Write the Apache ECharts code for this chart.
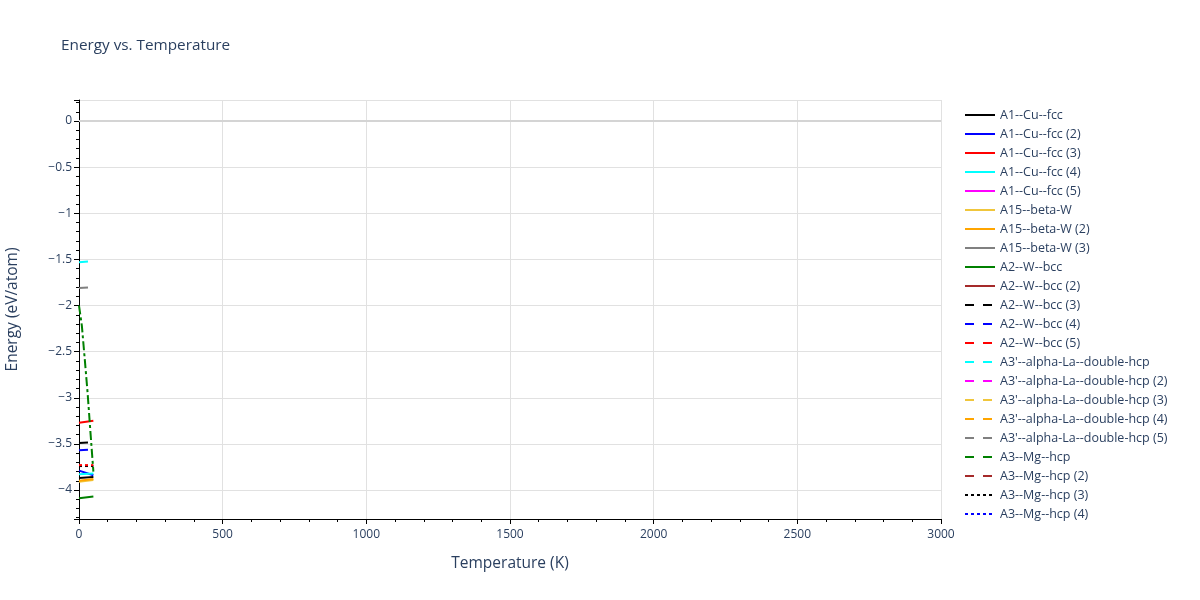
<!DOCTYPE html>
<html>
<head>
<meta charset="utf-8">
<title>Energy vs. Temperature</title>
<script src="https://cdn.jsdelivr.net/npm/echarts@6/dist/echarts.min.js"></script>
<style>
    html, body { margin: 0; padding: 0; background: #fff; }
    #energy { width: 1200px; height: 600px; }
</style>
</head>
<body>
<div id="energy"></div>
<script>
// temperatures (K) of the short runs, and the finer one for the dash-dot series
var temps = [0, 50];
var tempsFine = [0, 10, 20, 30, 40, 50];

// energies (eV/atom), one small array per series
var cuFcc = [-3.87, -3.86];
var cuFcc2 = [-3.79, -3.84];
var cuFcc3 = [-3.27, -3.25];
var cuFcc4 = [-3.83, -3.82];
var cuFcc5 = [];
var betaW = [-3.91, -3.89];
var betaW2 = [-3.90, -3.88];
var betaW3 = [];
var wBcc = [-4.09, -4.07];
var wBcc2 = [];
var wBcc3 = [-3.49, -3.48];
var wBcc4 = [-3.57, -3.56];
var wBcc5 = [];
var laHcp = [-1.53, -1.52];
var laHcp2 = [];
var laHcp3 = [];
var laHcp4 = [];
var laHcp5 = [-1.81, -1.80];
var mgHcp = [];
var mgHcp2 = [];
var mgHcp3 = [-3.74, -3.74];
var mgHcp4 = [];
var mgHcp5 = [-3.73, -3.73];
var diamond4 = [-2.00, -2.22, -2.58, -2.95, -3.38, -3.80];

var yTicks = [0, -0.5, -1, -1.5, -2, -2.5, -3, -3.5, -4];

var SOLID = 'solid';
var DASH = [9, 9];
var DOT = [3, 3];
var DASHDOT = [9, 3, 3, 3];
var FONT = '"Open Sans", verdana, arial, sans-serif';
var TEXT = '#2a3f5f';

function pairs(xs, ys) {
    var out = [];
    for (var i = 0; i < ys.length; i++) {
        out.push([xs[i], ys[i]]);
    }
    return out;
}

function lineSeries(name, color, dash, xs, ys) {
    return {
        name: name,
        type: 'line',
        symbol: 'none',
        showSymbol: false,
        lineStyle: { color: color, width: 2, type: dash },
        itemStyle: { color: color },
        data: pairs(xs, ys)
    };
}

function minus(v) {
    return String(v).replace('-', '\u2212');
}

var series = [
    lineSeries('A1--Cu--fcc', '#000000', SOLID, temps, cuFcc),
    lineSeries('A1--Cu--fcc (2)', '#0000ff', SOLID, temps, cuFcc2),
    lineSeries('A1--Cu--fcc (3)', '#ff0000', SOLID, temps, cuFcc3),
    lineSeries('A1--Cu--fcc (4)', '#00ffff', SOLID, temps, cuFcc4),
    lineSeries('A1--Cu--fcc (5)', '#ff00ff', SOLID, temps, cuFcc5),
    lineSeries('A15--beta-W', '#f0c63c', SOLID, temps, betaW),
    lineSeries('A15--beta-W (2)', '#ffa500', SOLID, temps, betaW2),
    lineSeries('A15--beta-W (3)', '#808080', SOLID, temps, betaW3),
    lineSeries('A2--W--bcc', '#008000', SOLID, temps, wBcc),
    lineSeries('A2--W--bcc (2)', '#a52a2a', SOLID, temps, wBcc2),
    lineSeries('A2--W--bcc (3)', '#000000', DASH, temps, wBcc3),
    lineSeries('A2--W--bcc (4)', '#0000ff', DASH, temps, wBcc4),
    lineSeries('A2--W--bcc (5)', '#ff0000', DASH, temps, wBcc5),
    lineSeries("A3'--alpha-La--double-hcp", '#00ffff', DASH, temps, laHcp),
    lineSeries("A3'--alpha-La--double-hcp (2)", '#ff00ff', DASH, temps, laHcp2),
    lineSeries("A3'--alpha-La--double-hcp (3)", '#f0c63c', DASH, temps, laHcp3),
    lineSeries("A3'--alpha-La--double-hcp (4)", '#ffa500', DASH, temps, laHcp4),
    lineSeries("A3'--alpha-La--double-hcp (5)", '#808080', DASH, temps, laHcp5),
    lineSeries('A3--Mg--hcp', '#008000', DASH, temps, mgHcp),
    lineSeries('A3--Mg--hcp (2)', '#a52a2a', DASH, temps, mgHcp2),
    lineSeries('A3--Mg--hcp (3)', '#000000', DOT, temps, mgHcp3),
    lineSeries('A3--Mg--hcp (4)', '#0000ff', DOT, temps, mgHcp4),
    lineSeries('A3--Mg--hcp (5)', '#ff0000', DOT, temps, mgHcp5),
    lineSeries('A4--C--diamond (4)', '#008000', DASHDOT, tempsFine, diamond4)
];

// zero line like the plotting tool draws it
series[0].markLine = {
    silent: true,
    symbol: 'none',
    label: { show: false },
    lineStyle: { color: '#d4d4d4', width: 2, type: 'solid' },
    data: [{ yAxis: 0 }]
};
series[0].z = 1;

// only the first 22 names fit in the legend box
var legendNames = [];
for (var i = 0; i < 22; i++) {
    legendNames.push(series[i].name);
}

var chart = echarts.init(document.getElementById('energy'), null, { renderer: 'canvas' });
var energyOptions = {
    backgroundColor: '#ffffff',
    animation: false,
    textStyle: { fontFamily: FONT },
    title: {
        text: 'Energy vs. Temperature',
        left: 61,
        top: 38,
        padding: 0,
        textStyle: { fontFamily: FONT, fontSize: 15.3, fontWeight: 'normal', color: TEXT }
    },
    tooltip: {
        trigger: 'axis',
        axisPointer: { type: 'line' }
    },
    legend: {
        data: legendNames,
        orient: 'vertical',
        left: 964,
        top: 108,
        padding: 0,
        itemWidth: 30,
        itemHeight: 14,
        itemGap: 5,
        itemStyle: { opacity: 0, borderWidth: 0 },
        lineStyle: { width: 2 },
        textStyle: { fontFamily: FONT, fontSize: 12.5, color: TEXT, lineHeight: 14 }
    },
    grid: {
        left: 79,
        right: 259,
        top: 100,
        bottom: 81,
        containLabel: false,
        outerBoundsMode: 'none'
    },
    xAxis: {
        type: 'value',
        min: 0,
        max: 3000,
        interval: 500,
        name: 'Temperature (K)',
        nameLocation: 'middle',
        nameGap: 37,
        nameTextStyle: { fontFamily: FONT, fontSize: 15.5, color: TEXT },
        axisLine: { show: true, onZero: false, lineStyle: { color: '#000', width: 1 } },
        axisTick: { show: true, inside: false, length: 5, lineStyle: { color: '#000' } },
        minorTick: { show: true, splitNumber: 5, length: 3, lineStyle: { color: '#000' } },
        axisLabel: {
            fontFamily: FONT,
            fontSize: 12,
            color: TEXT,
            margin: 10,
            formatter: function (v) {
                return String(v);
            }
        },
        splitLine: { show: true, lineStyle: { color: '#e1e1e1', width: 1 } }
    },
    yAxis: {
        type: 'value',
        min: -4.314,
        max: 0.228,
        splitNumber: 9,
        name: 'Energy (eV/atom)',
        nameLocation: 'middle',
        nameGap: 58,
        nameTextStyle: { fontFamily: FONT, fontSize: 15.5, color: TEXT },
        axisLine: { show: true, onZero: false, lineStyle: { color: '#000', width: 1 } },
        axisTick: { show: true, inside: false, length: 5, lineStyle: { color: '#000' } },
        minorTick: { show: true, splitNumber: 5, length: 3, lineStyle: { color: '#000' } },
        axisLabel: {
            fontFamily: FONT,
            fontSize: 12,
            color: TEXT,
            margin: 7,
            showMinLabel: false,
            showMaxLabel: false,
            formatter: function (v) {
                if (yTicks.indexOf(v) < 0) {
                    return '';
                }
                return minus(v);
            }
        },
        splitLine: { show: true, lineStyle: { color: '#e1e1e1', width: 1 } }
    },
    series: series
};
chart.setOption(energyOptions);
</script>
</body>
</html>
